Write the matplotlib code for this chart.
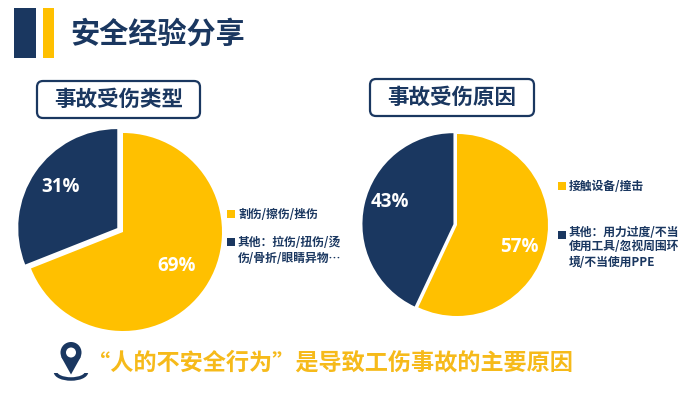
import matplotlib
matplotlib.use("Agg")
import matplotlib.pyplot as plt
from matplotlib.patches import Rectangle, FancyBboxPatch, Circle, Ellipse, Polygon

plt.rcParams['font.family'] = ['Noto Sans CJK SC', 'DejaVu Sans']

NAVY = "#1A3760"
YELLOW = "#FFC000"

# chart data
left_title = "事故受伤类型"
left_values = [69, 31]
left_labels = ["69%", "31%"]
right_title = "事故受伤原因"
right_values = [57, 43]
right_labels = ["57%", "43%"]
colors = [YELLOW, NAVY]


def add_pie(fig, cx, cy, r, values, labels, explode, label_pos):
    # axes placed in pixels, radius 1 in data units + margin for the exploded slice
    pad = 1.2
    w = 2 * r * pad
    ax = fig.add_axes([(cx - w / 2) / 700, 1 - (cy + w / 2) / 393, w / 700, w / 393])
    ax.pie(values, colors=colors, startangle=90, counterclock=False,
           explode=explode, radius=1.0, wedgeprops=dict(linewidth=0))
    ax.set_xlim(-pad, pad)
    ax.set_ylim(-pad, pad)
    ax.set_aspect('equal')
    ax.axis('off')
    for lab, (x, y) in zip(labels, label_pos):
        ax.text(x, y, lab, color="white", fontsize=13.5, fontweight='bold',
                ha='center', va='center', family=['Open Sans', 'DejaVu Sans'])
    return ax


fig = plt.figure(figsize=(7, 3.93), dpi=100, facecolor='white')

# overlay axes in pixel units for the slide decoration
bg = fig.add_axes([0, 0, 1, 1])
bg.set_xlim(0, 700)
bg.set_ylim(393, 0)
bg.axis('off')

# header bars and title
bg.add_patch(Rectangle((14, 8), 22, 50, fc=NAVY, ec='none'))
bg.add_patch(Rectangle((43, 8), 11, 50, fc=YELLOW, ec='none'))
bg.text(70.5, 34, "安全经验分享", fontsize=21, fontweight='black', color=NAVY, va='center')

# sub title boxes
for x, y, w, h, t in [(37, 81, 163, 37, left_title), (370, 79, 164, 37, right_title)]:
    bg.add_patch(FancyBboxPatch((x + 5, y + 5), w - 10, h - 10,
                                boxstyle="round,pad=5,rounding_size=6",
                                fc='white', ec=NAVY, lw=1.6))
    bg.text(x + w / 2, y + h / 2 - 0.5, t, fontsize=15.5, fontweight='black', color=NAVY,
            ha='center', va='center')

add_pie(fig, 123, 232, 99, left_values, left_labels, [0, 0.07],
        [(0.545, -0.343), (-0.626, 0.455)])
add_pie(fig, 457, 225, 91, right_values, right_labels, [0, 0.04],
        [(0.681, -0.242), (-0.736, 0.253)])

# legends
fg = fig.add_axes([0, 0, 1, 1])
fg.set_xlim(0, 700)
fg.set_ylim(393, 0)
fg.axis('off')
fg.patch.set_alpha(0)

leg = dict(fontsize=8.5, color=NAVY, fontweight='bold', va='center')
fg.add_patch(Rectangle((227, 210), 8, 8, fc=YELLOW, ec='none'))
fg.text(238, 214, "割伤/擦伤/挫伤", **leg)
fg.add_patch(Rectangle((227, 238), 8, 8, fc=NAVY, ec='none'))
fg.text(238, 242, "其他：拉伤/扭伤/烫", **leg)
fg.text(238, 258, "伤/骨折/眼睛异物…", **leg)

fg.add_patch(Rectangle((558, 182), 8, 8, fc=YELLOW, ec='none'))
fg.text(569, 186, "接触设备/撞击", **leg)
fg.add_patch(Rectangle((558, 231), 7.5, 7.5, fc=NAVY, ec='none'))
fg.text(569, 233, "其他：用力过度/不当", **leg)
fg.text(569, 247, "使用工具/忽视周围环", **leg)
fg.text(569, 262, "境/不当使用PPE", **leg)

# location pin
fg.add_patch(Ellipse((71, 372), 31, 14, fc='none', ec=NAVY, lw=2.5))
fg.add_patch(Rectangle((52, 358), 38, 14.5, fc='white', ec='none'))
fg.add_patch(Circle((71, 352.5), 10.5, fc=NAVY, ec='none'))
fg.add_patch(Polygon([(61, 356.5), (81, 356.5), (71, 374.5)], fc=NAVY, ec='none'))
fg.add_patch(Circle((71, 352.5), 5, fc='white', ec='none'))

# bottom message
fg.text(87, 363, "“人的不安全行为”是导致工伤事故的主要原因", fontsize=16.7,
        fontweight='bold', color="#F6BA1A", va='center')

fig.savefig("out.png", dpi=100)
